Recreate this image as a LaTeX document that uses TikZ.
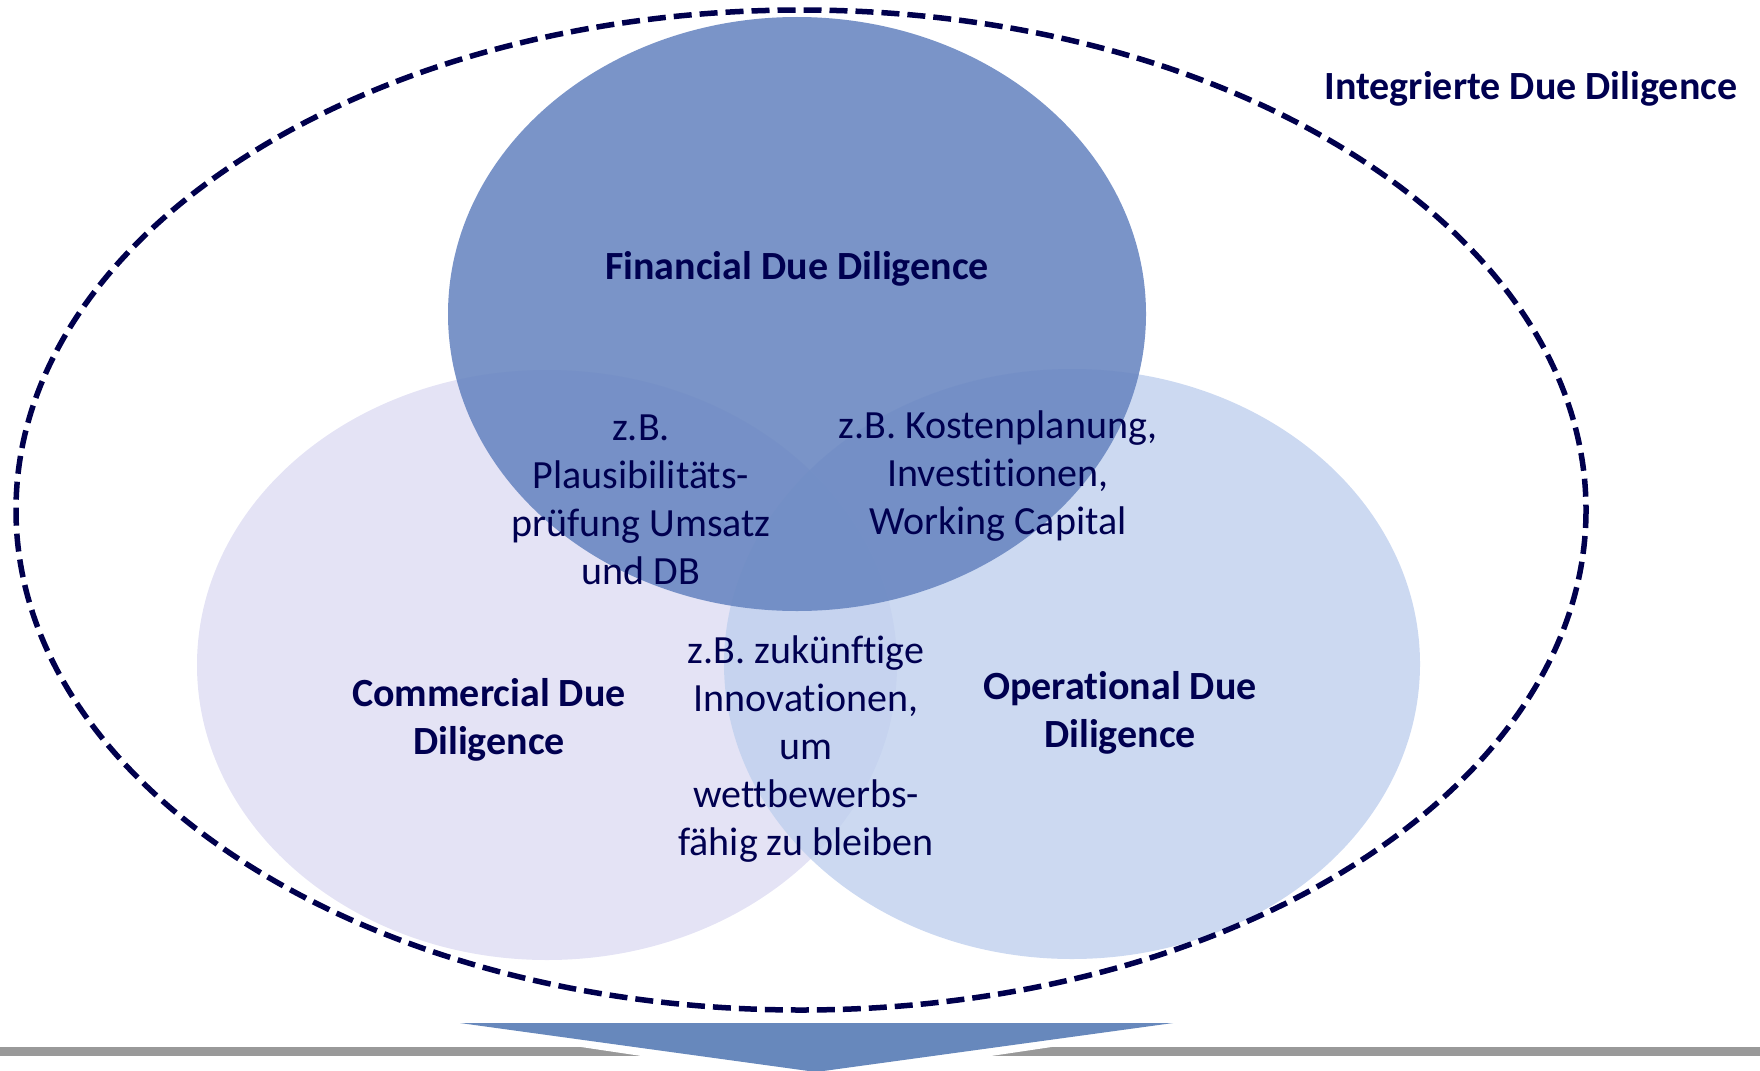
\documentclass[tikz,border=0pt]{standalone}
\usepackage{fontspec}
\setmainfont{Carlito}[Ligatures={NoCommon}]
\usetikzlibrary{calc}
\begin{document}
\begin{tikzpicture}[x=1pt,y=-1pt,
  txt/.style={text=navytxt,align=center,font=\fontsize{40}{48}\selectfont,inner sep=0pt},
  btxt/.style={txt,font=\fontsize{40}{48}\selectfont\bfseries}]
\definecolor{navytxt}{HTML}{000050}
\definecolor{navyline}{HTML}{00004D}
\definecolor{comfill}{HTML}{E4E3F5}
\definecolor{opfill}{HTML}{BFD0EE}
\definecolor{finfill}{HTML}{6B88C2}
\definecolor{arrowfill}{HTML}{6788BC}
\definecolor{bargray}{HTML}{999999}
\useasboundingbox (0,0) rectangle (1760,1070);
% circles
\fill[comfill] (547,665) ellipse [x radius=350,y radius=295];
\fill[opfill,opacity=0.8] (1072,664) ellipse [x radius=348,y radius=295];
\fill[finfill,opacity=0.9] (797,314) ellipse [x radius=349,y radius=297];
% outer dashed ellipse
\draw[navyline,line width=5.5pt,dash pattern=on 18pt off 8pt] (801,510) ellipse [x radius=785,y radius=500];
% bottom bar and arrow
\fill[bargray] (0,1047) rectangle (1760,1056);
\coordinate (ta) at (460,1023);
\coordinate (tb) at (1173,1023);
\coordinate (tc) at (816,1072);
\fill[white] ($(ta)+(-40,0)$) -- ($(tb)+(40,0)$) -- ($(tc)+(0,10)$) -- cycle;
\fill[arrowfill] (ta) -- (tb) -- (tc) -- cycle;
% texts
\node[btxt] (integ) at (1531,89) {Integrierte Due Diligence};
\node[btxt] (fin) at (797,269) {Financial Due Diligence};
\node[btxt] (com) at (489,720) {Commercial Due\\Diligence};
\node[btxt] (op) at (1120,713) {Operational Due\\Diligence};
\node[txt] (fc) at (641,500) {z.B.\\Plausibilitäts-\\prüfung Umsatz\\und DB};
\node[txt] (fo) at (998,476) {z.B. Kostenplanung,\\Investitionen,\\Working Capital};
\node[txt] (co) at (806,749) {z.B. zukünftige\\Innovationen,\\um\\wettbewerbs-\\fähig zu bleiben};
\end{tikzpicture}
\end{document}
